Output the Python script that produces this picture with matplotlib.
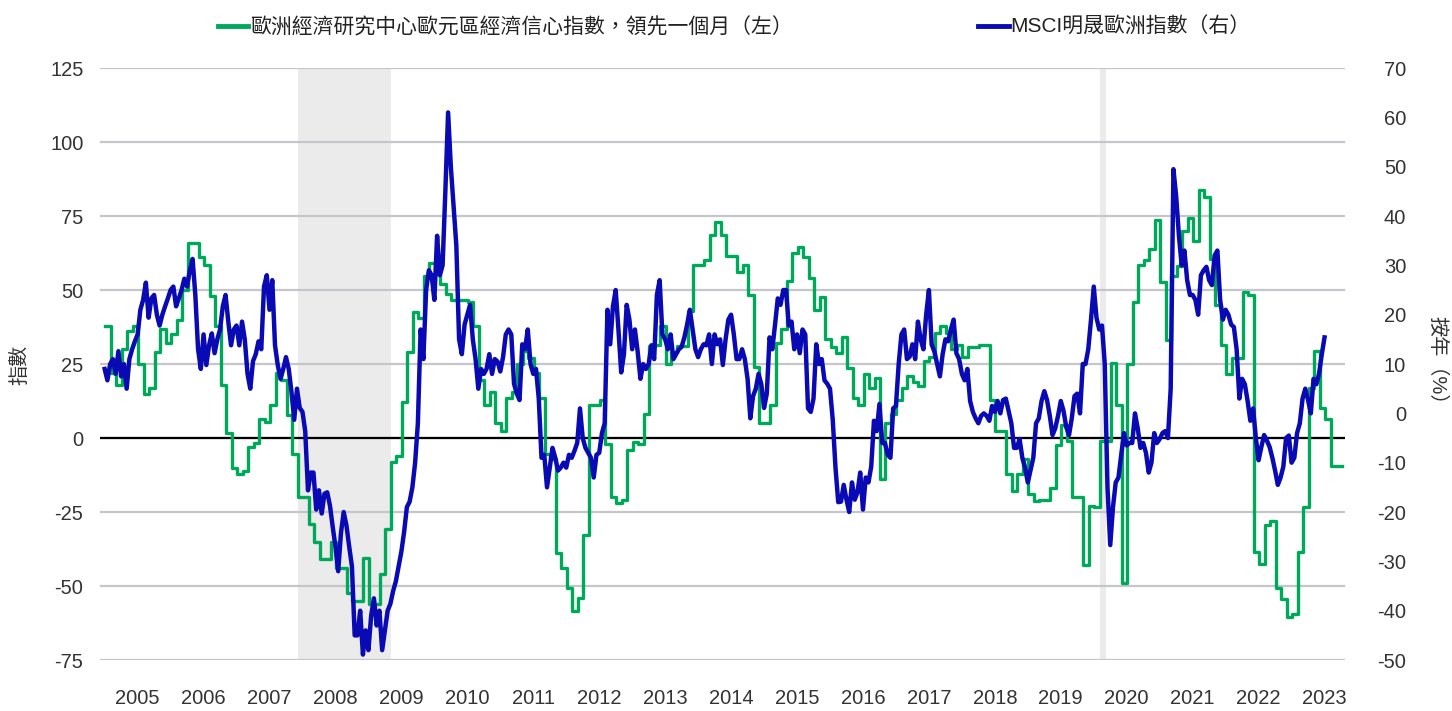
import numpy as np
import matplotlib
matplotlib.use("Agg")
import matplotlib.pyplot as plt
from matplotlib.lines import Line2D

plt.rcParams['font.family'] = ['Liberation Sans', 'Noto Sans CJK TC', 'DejaVu Sans']

# ZEW euro area economic sentiment, monthly from Jan 2005, led one month (left axis)
zew = [38, 22, 18, 30, 36, 38, 25, 15, 17, 29,
       37, 32, 35, 40, 50, 66, 66, 61, 58.6, 48,
       38, 18, 1.7, -10, -12, -11, -3, -1.6, 6.5, 5.5,
       11, 22, 19.6, 7.7, -5.5, -20, -20, -29, -35, -41,
       -41, -35, -44, -44, -52.5, -55, -55, -40.6, -56, -56,
       -46, -30.7, -8, -6, 12.3, 29, 42.7, 40.7, 54.6, 59,
       59, 52, 48.7, 46.7, 46.5, 46.5, 46, 38, 19.6, 11,
       15.6, 5, 2.4, 13.6, 15.6, 25, 29.5, 27, 22, 13.6,
       -5.5, -7, -39, -44, -50.5, -58.5, -54, -32.7, 11, 11,
       13, -2, -20, -22, -21, -4, -1.5, -2, 8, 31,
       31.5, 38, 25, 29, 31, 31, 43, 58.6, 58.6, 60,
       68.5, 73, 68.5, 61.6, 61.6, 56, 58.6, 48.4, 24, 5,
       5, 11, 32, 37, 53, 62.6, 64.5, 61, 54, 43.4,
       47.6, 33.5, 30.8, 28.8, 34, 23.5, 13.6, 11, 21.6, 17,
       20.2, -14, 5, 8, 13, 17, 21, 19, 17.6, 26,
       27.5, 35.5, 38, 35.5, 30, 31.5, 27.5, 30.8, 30.8, 31.5,
       31.5, 13, 2.4, 2.4, -12, -18, -12, -7, -18.8, -21.4,
       -20.8, -20.8, -16.8, -2.2, 4.4, -1, -20, -20, -43, -23,
       -23.4, -1, -1, 25.5, 11, -49, 25, 46, 58.6, 60,
       64, 73.8, 52.6, 33, 54.6, 58, 69.8, 74.5, 66.5, 83.7,
       81.5, 60.6, 45, 31.5, 21.6, 26.9, 26.9, 49.3, 48.4, -38.6,
       -42.6, -29.4, -28, -50.5, -54.5, -60.4, -59.5, -38.6, -23.4, 17,
       29.5, 10.3, 6.3, -9.5, -9.5]

# MSCI Europe, % y/y, two readings a month from Jan 2005 (right axis)
msci = [9, 6.7, 10, 11, 8, 12.6, 7.5, 10, 5, 11,
        13, 14.6, 16, 21, 23, 26.5, 19.4, 23.3, 24, 20,
        17.8, 20, 21.7, 23.3, 25, 25.7, 21.7, 23.3, 25, 27.3,
        25.7, 29, 31.3, 24, 13, 9, 16, 9.8, 13.8, 16.2,
        12.2, 15, 17, 21.7, 24, 18.6, 13.8, 17, 17.8, 13.8,
        18.6, 15, 8, 5, 10.6, 12, 14.6, 13, 25.7, 28,
        21, 27, 13.8, 9.8, 7, 9, 11.4, 9, 4.3, -1.3,
        5, 1.1, 0.3, -3.6, -15.6, -12, -12, -19.5, -15.6, -20.3,
        -16.3, -16, -18.7, -23, -27, -32, -24.3, -20, -22.7, -27,
        -31, -45, -45, -40, -48.9, -44, -48, -41, -37.5, -43,
        -40, -48, -44, -40, -38.6, -36, -34, -31, -28, -24,
        -19, -17.9, -15, -10, -2, 17, 11, 25, 29, 28,
        23, 36, 28, 30, 45, 61, 50, 42, 34, 15,
        12, 18, 20, 22, 15, 11, 5, 9, 8, 9,
        12, 8, 11, 10.5, 8.5, 11.4, 16, 17, 16, 6,
        4, 2.7, 14, 13, 17, 10, 8, 9, 3, -9,
        -8.4, -15, -11, -7, -9, -11.6, -11, -10, -11, -8.4,
        -9, -7.6, -6, 1, -5, -7, -8, -9, -13, -8.4,
        -8, -4, -2, 21, 14, 21.7, 25, 17, 8.3, 12,
        22, 19, 13, 17, 12.5, 7, 10, 9, 10, 13.8,
        11, 24, 27, 16, 15, 13, 16, 11, 12, 13,
        13.5, 15.4, 18, 21, 17, 13, 11.4, 13, 14, 13.8,
        16, 10, 16, 14, 15, 9.8, 15, 19, 20, 16,
        11, 11, 13, 11, 7, -1, 3.5, 5, 8, 5.9,
        1.1, 4, 15.4, 13, 18, 23.3, 22, 25, 25, 17.8,
        18.6, 13, 16, 12.2, 17, 16, 1, 0.3, 3, 14,
        10, 11, 6.7, 6, 5, -1.3, -11, -18, -17.9, -14.5,
        -17.5, -20, -14, -17.5, -16, -12, -19.5, -13, -14, -10.8,
        -1.5, -3.6, 1.9, -6, -6, -8.4, -9, 1, 1.5, 10,
        16, 17, 11, 11.5, 14, 11, 18.6, 15, 13, 20,
        25, 14, 12.5, 10, 7.5, 12, 15, 14.6, 17, 19,
        12.2, 11, 8, 6.7, 9, 2.5, 0.3, -1, -2, -0.5,
        0, -0.5, -1.5, 1.5, 0.3, 2.5, 0, 2.7, 3, 0.5,
        -2, -7, -7, -5.2, -9, -11, -14, -11.5, -9, -2,
        -1, 2.5, 4.5, 2.7, -0.5, -4.4, -3, -0.5, 2.5, 0.5,
        -2.8, -4.4, -1, 3.5, 4, 0, 10, 10, 13, 19,
        25.7, 19.4, 17, 17.8, 10, -15, -26.7, -19, -14, -13,
        -8.4, -4, -6.5, -6, -6, 0, -3, -7, -6, -8,
        -12, -10, -4, -6, -5.2, -4, -3.6, -5, 5, 49.5,
        44, 36, 30, 33, 27, 24, 24, 23, 20, 28,
        29, 29.7, 27, 26, 32, 33, 23, 19, 21, 20,
        18, 17.5, 13, 3, 7, 5.9, 2.5, -1.5, 1, -5,
        -9.5, -6.8, -4.4, -5.5, -6.8, -9, -11.6, -14.5, -13, -10.8,
        -5, -4.5, -10, -9, -4, -2, 3, 5, 2.7, 0,
        7, 5.9, 8, 12, 15.4]

recessions = [(2007.93, 2009.34), (2020.10, 2020.18)]
years = list(range(2005, 2024))
left_ticks = [-75, -50, -25, 0, 25, 50, 75, 100, 125]
right_ticks = [-50, -40, -30, -20, -10, 0, 10, 20, 30, 40, 50, 60, 70]

label_zew = '歐洲經濟研究中心歐元區經濟信心指數，領先一個月（左）'
label_msci = 'MSCI明晟歐洲指數（右）'

GREEN = '#00a85a'
BLUE = '#0a0ab4'
TXT = '#333333'
FS = 14.5

fig = plt.figure(figsize=(14.52, 7.11), dpi=100)
ax = fig.add_axes([0.0689, 0.0717, 0.8574, 0.8326])
ax2 = ax.twinx()

for a, b in recessions:
    ax.axvspan(a, b, color='#ebebeb', lw=0, zorder=0)

ax.set_ylim(-75, 125)
ax.set_yticks(left_ticks)
ax.set_yticklabels([str(v) for v in left_ticks])
ax.grid(axis='y', color='#c6c6ca', lw=1.6, zorder=1)
ax.axhline(0, color='black', lw=1.6, zorder=2)

t_zew = 2005 + (np.arange(len(zew) + 1) + 0.1) / 12
ax.step(t_zew, zew + [zew[-1]], where='post', color=GREEN, lw=2.4, zorder=3)

t_msci = 2005 + np.arange(len(msci)) / 24
ax2.plot(t_msci, msci, color=BLUE, lw=3.2, zorder=3)

ax2.set_ylim(-50, 70)
ax2.set_yticks(right_ticks)
ax2.set_yticklabels([str(v) for v in right_ticks], ha='right')

ax.set_xlim(2004.93, 2023.81)
ax.set_xticks([y + 0.5 for y in years])
ax.set_xticklabels([str(y) for y in years])

for a in (ax, ax2):
    for s in a.spines.values():
        s.set_visible(False)
ax.tick_params(axis='both', length=0, labelsize=FS, colors=TXT)
ax.tick_params(axis='x', pad=21)
ax.tick_params(axis='y', pad=12)
ax2.tick_params(axis='y', length=0, labelsize=FS, colors=TXT, pad=44)

fig.text(20 / 1452, 1 - 365 / 711, '指數', rotation=90, ha='center', va='center',
         fontsize=FS, color=TXT)
fig.text(1437 / 1452, 1 - 365 / 711, '按年（%）', rotation=-90, ha='center', va='center',
         fontsize=FS, color=TXT)

handles = [Line2D([], [], color=GREEN, lw=3.5), Line2D([], [], color=BLUE, lw=3.5)]
fig.legend(handles, [label_zew, label_msci], loc='center left', ncol=2,
           bbox_to_anchor=(218 / 1452, 1 - 27 / 711), frameon=False, fontsize=15,
           labelcolor='#222222', handlelength=1.45, handletextpad=0.1,
           columnspacing=8.9, borderpad=0, borderaxespad=0)

fig.savefig('out.png', dpi=100)
